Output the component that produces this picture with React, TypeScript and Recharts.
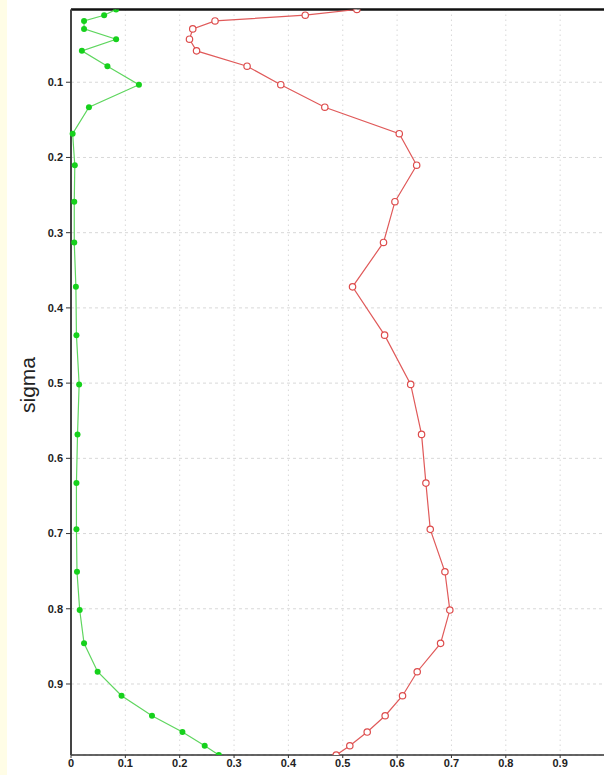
import { ScatterChart, Scatter, XAxis, YAxis, CartesianGrid, ReferenceLine } from 'recharts'

// sigma levels, top of the model to the surface
const sigmaLevels = [
  0.0033, 0.0109, 0.0185, 0.0291, 0.0428, 0.0583, 0.0787, 0.1033, 0.1332, 0.1684,
  0.2103, 0.2588, 0.313, 0.372, 0.4362, 0.5017, 0.5682, 0.6329, 0.6944, 0.7508,
  0.8017, 0.846, 0.8837, 0.9156, 0.9422, 0.9639, 0.9821, 0.9944,
]

const greenValues = [
  0.083, 0.061, 0.024, 0.024, 0.083, 0.02, 0.067, 0.125, 0.033, 0.003,
  0.007, 0.006, 0.006, 0.009, 0.01, 0.015, 0.012, 0.01, 0.01, 0.011,
  0.016, 0.024, 0.049, 0.093, 0.149, 0.205, 0.246, 0.272,
]

const redValues = [
  0.526, 0.431, 0.265, 0.224, 0.218, 0.231, 0.324, 0.386, 0.467, 0.604,
  0.636, 0.596, 0.575, 0.518, 0.577, 0.625, 0.645, 0.653, 0.661, 0.688,
  0.697, 0.68, 0.637, 0.61, 0.578, 0.545, 0.513, 0.488,
]

const xTicks = [0, 0.1, 0.2, 0.3, 0.4, 0.5, 0.6, 0.7, 0.8, 0.9]
const yTicks = [0.1, 0.2, 0.3, 0.4, 0.5, 0.6, 0.7, 0.8, 0.9]

const greenData = sigmaLevels.map((s, i) => ({ x: greenValues[i], sigma: s }))
const redData = sigmaLevels.map((s, i) => ({ x: redValues[i], sigma: s }))

const tickStyle = { fontFamily: 'Liberation Sans, Arial, sans-serif', fontSize: 11, fontWeight: 700, fill: '#222' }

const SigmaLabel = () => (
  <text
    transform="translate(27,385) rotate(-90)"
    textAnchor="middle"
    dominantBaseline="central"
    fontFamily="Liberation Sans, Arial, sans-serif"
    fontSize={21}
    fill="#222"
  >
    sigma
  </text>
)

const HollowDot = (props: any) => (
  <circle cx={props.cx} cy={props.cy} r={3.2} fill="#fff" stroke="#dd4c4c" strokeWidth={1.2} />
)

const FilledDot = (props: any) => <circle cx={props.cx} cy={props.cy} r={3} fill="#16d11c" />

export default function App() {
  return (
    <div
      style={{
        position: 'absolute',
        left: 0,
        top: 0,
        width: 604,
        height: 775,
        overflow: 'hidden',
        background: 'linear-gradient(to right, #fffde6 0 7px, #ffffff 7px)',
      }}
    >
      <ScatterChart width={630} height={775} margin={{ top: 9.5, right: 15.5, left: 0, bottom: 0 }}>
        <CartesianGrid vertical={false} stroke="#d8d8d8" strokeDasharray="3 3" />
        <CartesianGrid horizontal={false} stroke="#d8d8d8" strokeDasharray="1.5 3.5" />
        <XAxis
          type="number"
          dataKey="x"
          domain={[0, 1]}
          ticks={xTicks}
          interval={0}
          height={20}
          tickSize={3}
          tickMargin={1}
          tick={tickStyle}
          tickFormatter={(v: number) => (v === 0 ? '0' : v.toFixed(1))}
          axisLine={{ stroke: '#333', strokeWidth: 1.5 }}
          tickLine={{ stroke: '#333' }}
        />
        <YAxis
          type="number"
          dataKey="sigma"
          reversed
          domain={[sigmaLevels[0], sigmaLevels[sigmaLevels.length - 1]]}
          allowDataOverflow
          ticks={yTicks}
          interval={0}
          width={71}
          tickSize={5}
          tickMargin={3}
          tick={tickStyle}
          tickFormatter={(v: number) => v.toFixed(1)}
          axisLine={{ stroke: '#444', strokeWidth: 2 }}
          tickLine={{ stroke: '#333' }}
          label={<SigmaLabel />}
        />
        {/* frame top */}
        <ReferenceLine y={sigmaLevels[0]} stroke="#111" strokeWidth={2.5} ifOverflow="visible" />
        <Scatter
          data={redData}
          line={{ stroke: '#e05a5a', strokeWidth: 1.2 }}
          shape={HollowDot}
          isAnimationActive={false}
        />
        <Scatter
          data={greenData}
          line={{ stroke: '#5fd65f', strokeWidth: 1.2 }}
          shape={FilledDot}
          isAnimationActive={false}
        />
      </ScatterChart>
    </div>
  )
}
